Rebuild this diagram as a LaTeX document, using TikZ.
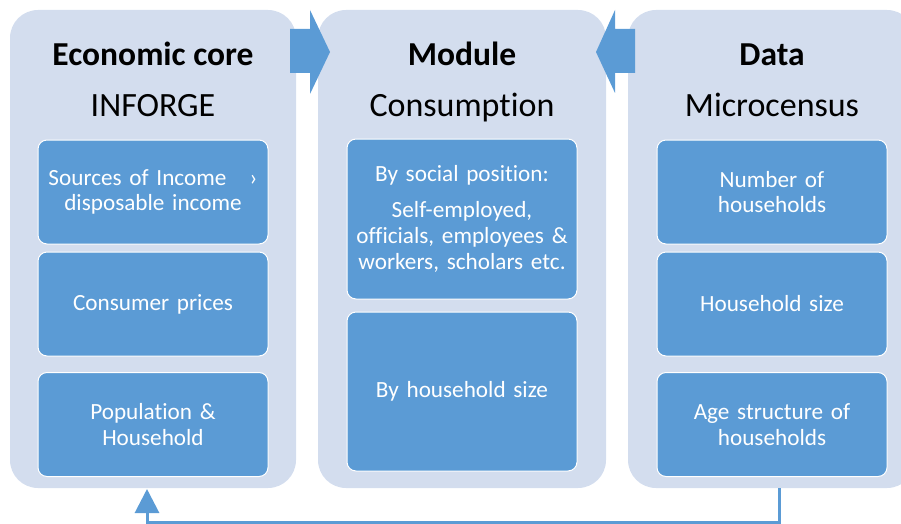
\documentclass[tikz,border=0pt]{standalone}
\usepackage{fontspec}
\setmainfont{Carlito}[Ligatures=NoCommon]
\usetikzlibrary{arrows.meta}
\definecolor{panelfill}{HTML}{D3DDEE}
\definecolor{itemfill}{HTML}{5B9BD5}

\begin{document}
\begin{tikzpicture}[x=1pt,y=-1pt,
		panel/.style={fill=panelfill,rounded corners=28pt,minimum width=286pt,minimum height=478pt,inner sep=0pt},
		item/.style={draw=white,line width=1pt,fill=itemfill,rounded corners=9pt,minimum width=230pt,minimum height=104pt,text=white,text width=224pt,align=center,inner sep=0pt,font=\fontsize{23.2}{25.8}\selectfont},
		title/.style={anchor=base,font=\fontsize{33.5}{37}\selectfont\bfseries},
		subtitle/.style={anchor=base,font=\fontsize{34}{38}\selectfont},
		blockarrow/.style={fill=itemfill},
		link/.style={draw=itemfill,line width=3pt,-{Triangle[width=24pt,length=24pt]}}]
		\clip (0,0) rectangle (901,524);
		\path (153,249) node[panel] (core) {}
		(462,249) node[panel,minimum width=288pt] (module) {}
		(771.5,249) node[panel,minimum width=287pt] (data) {};

		\path (153,66) node[title] (coretitle) {Economic core}
		(153,117) node[subtitle] (coresub) {INFORGE}
		(462,66) node[title] (moduletitle) {Module}
		(462,117) node[subtitle] (modulesub) {Consumption}
		(772,66) node[title] (datatitle) {Data}
		(772,117) node[subtitle] (datasub) {Microcensus};

		\path (153,192) node[item] (core1) {Sources of Income\quad ›\\disposable income}
		(153,304) node[item] (core2) {Consumer prices}
		(153,424.5) node[item] (core3) {Population \&\\Household}
		(462,219) node[item,minimum height=160pt] (module1) {By social position:\\[10pt]Self-employed,\\officials, employees \&\\workers, scholars etc.}
		(462,391.5) node[item,minimum height=159pt] (module2) {By household size}
		(772,192) node[item] (data1) {Number of\\households}
		(772,304) node[item] (data2) {Household size}
		(772,424.5) node[item] (data3) {Age structure of\\households};

		\fill[blockarrow] (290,29) -- (310,29) -- (310,10) -- (330,52) -- (310,94) -- (310,73) -- (290,73) -- cycle;
		\fill[blockarrow] (635,29) -- (615,29) -- (615,10) -- (596,52) -- (615,93) -- (615,73) -- (635,73) -- cycle;

		\coordinate (dataout) at (779,488);
		\coordinate (corein) at (147,489);
		\draw[link] (dataout) -- (779,522) -| (corein);
	\end{tikzpicture}
\end{document}
